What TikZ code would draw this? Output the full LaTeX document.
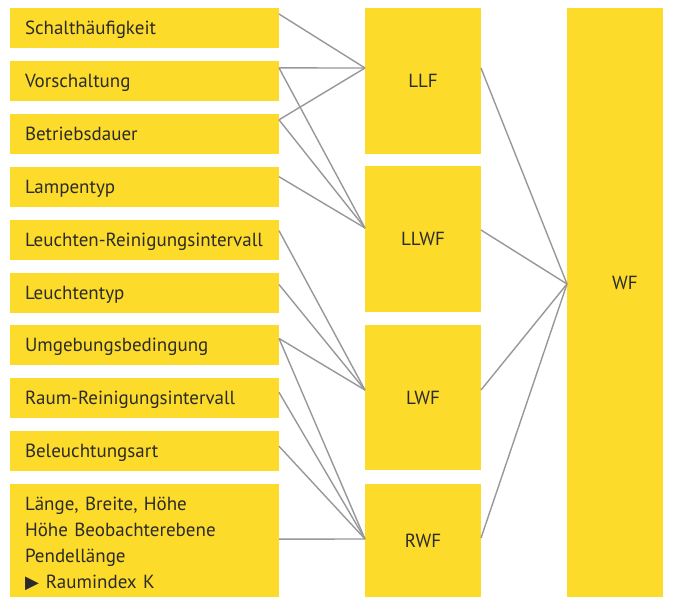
\documentclass[tikz,border=0pt]{standalone}
\usepackage{fontspec}
\setmainfont{PT Sans}
\newfontfamily\symfont{DejaVu Sans}
\usetikzlibrary{positioning}

\definecolor{boxyellow}{HTML}{FDDB2A}
\definecolor{linkgray}{HTML}{97979C}
\definecolor{textdark}{HTML}{2B2B2B}

\begin{document}
\begin{tikzpicture}[x=1pt,y=-1pt]
  \tikzstyle{factorbase} = [fill=boxyellow, text=textdark, anchor=north west, outer sep=0pt, inner xsep=15pt, inner ysep=0pt, text width=239pt, align=left, minimum height=40pt, font={\fontsize{19}{26}\selectfont}, node distance=12.9pt]
  \tikzstyle{factor} = [factorbase, text height=15pt, text depth=2pt]
  \tikzstyle{stage} = [fill=boxyellow, text=textdark, outer sep=0pt, minimum width=116pt, inner sep=0pt, font={\fontsize{19}{22}\selectfont}]
  \tikzstyle{link} = [draw=linkgray, line width=1.4pt]

  \useasboundingbox (0,0) rectangle (676,598);

  % input factors
  \node[factor] (schalt) at (10,8) {Schalthäufigkeit};
  \node[factor] (vorsch)   [below=of schalt]  {Vorschaltung};
  \node[factor] (betrieb)  [below=of vorsch]  {Betriebsdauer};
  \node[factor] (lampe)    [below=of betrieb] {Lampentyp};
  \node[factor] (lreinig)  [below=of lampe]   {Leuchten-Reinigungsintervall};
  \node[factor] (ltyp)     [below=of lreinig] {Leuchtentyp};
  \node[factor] (umgeb)    [below=of ltyp]    {Umgebungsbedingung};
  \node[factor] (rreinig)  [below=of umgeb]   {Raum-Reinigungsintervall};
  \node[factor] (beleucht) [below=of rreinig] {Beleuchtungsart};
  \node[factorbase, minimum height=113pt] (raum) [below=of beleucht]
    {\rule{0pt}{19pt}Länge, Breite, Höhe\\ Höhe Beobachterebene\\ Pendellänge\\ {\symfont\fontsize{18}{18}\selectfont ▶}\hspace{7pt}Raumindex K};

  % partial factors
  \node[stage, minimum height=146pt] (llf)  at (423,81)    {LLF};
  \node[stage, minimum height=146pt] (llwf) at (423,239)   {LLWF};
  \node[stage, minimum height=145pt] (lwf)  at (423,397.5) {LWF};
  \node[stage, minimum height=113pt] (rwf)  at (423,540.5) {RWF};

  % maintenance factor
  \node[stage, minimum width=96pt, minimum height=589pt] (wf) at (615,302.5) {};
  \node[stage, fill=none] (wflabel) at ([xshift=10pt,yshift=20pt]wf.center) {WF};

  % links to LLF
  \draw[link] ([yshift=-6pt]schalt.north east) -- ([yshift=-60pt]llf.north west);
  \draw[link] ([yshift=-7pt]vorsch.north east) -- ([yshift=-60pt]llf.north west);
  \draw[link] ([yshift=-6pt]betrieb.north east) -- ([yshift=-60pt]llf.north west);

  % links to LLWF
  \draw[link] ([yshift=-7pt]vorsch.north east) -- ([yshift=-62pt]llwf.north west);
  \draw[link] ([yshift=-6pt]betrieb.north east) -- ([yshift=-62pt]llwf.north west);
  \draw[link] ([yshift=-10pt]lampe.north east) -- ([yshift=-62pt]llwf.north west);

  % links to LWF
  \draw[link] ([yshift=-11pt]lreinig.north east) -- ([yshift=-65pt]lwf.north west);
  \draw[link] ([yshift=-12pt]ltyp.north east) -- ([yshift=-65pt]lwf.north west);
  \draw[link] ([yshift=-13pt]umgeb.north east) -- ([yshift=-65pt]lwf.north west);

  % links to RWF
  \draw[link] ([yshift=-13pt]umgeb.north east) -- ([yshift=-55pt]rwf.north west);
  \draw[link] ([yshift=-14pt]rreinig.north east) -- ([yshift=-55pt]rwf.north west);
  \draw[link] ([yshift=-15pt]beleucht.north east) -- ([yshift=-55pt]rwf.north west);
  \draw[link] ([yshift=-55pt]raum.north east) -- ([yshift=-55pt]rwf.north west);

  % links to WF
  \draw[link] ([yshift=-60pt]llf.north east) -- ([yshift=-276pt]wf.north west);
  \draw[link] ([yshift=-64pt]llwf.north east) -- ([yshift=-276pt]wf.north west);
  \draw[link] ([yshift=-65pt]lwf.north east) -- ([yshift=-276pt]wf.north west);
  \draw[link] ([yshift=-54pt]rwf.north east) -- ([yshift=-276pt]wf.north west);
\end{tikzpicture}
\end{document}
